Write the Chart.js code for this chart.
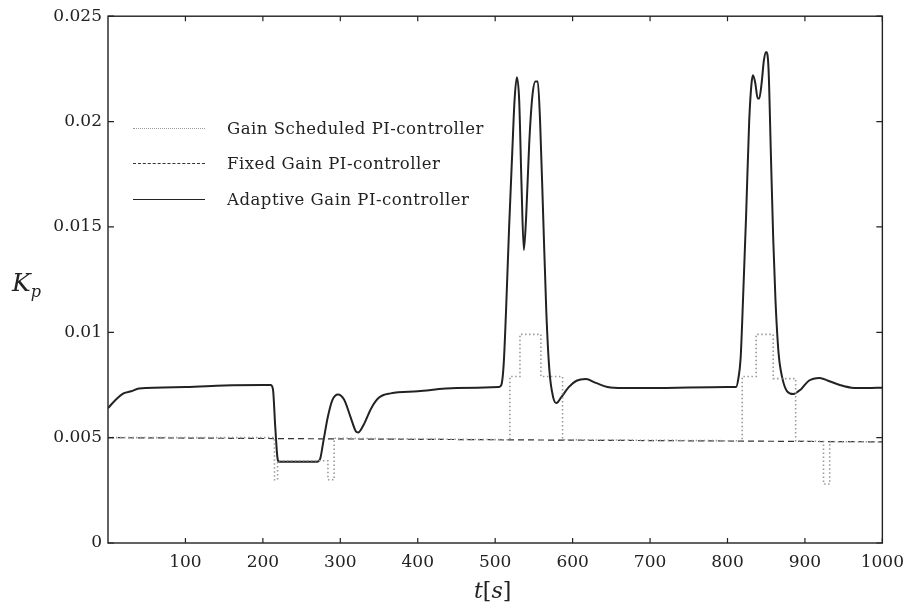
<!DOCTYPE html>
<html>
<head>
<meta charset="utf-8">
<script src="https://cdn.jsdelivr.net/npm/chart.js@4"></script>
<style>
  html, body { margin: 0; padding: 0; background: #fff; }
  #wrap { position: relative; width: 913px; height: 612px; }
  .lab { position: absolute; font-family: 'DejaVu Serif', serif; color: #222; white-space: nowrap; }
  .leg { position: absolute; left: 133px; width: 72px; height: 0; }
  .legtxt { position: absolute; left: 227px; font-family: 'DejaVu Serif', serif; font-size: 16.5px; letter-spacing: 0.5px; color: #222; transform: translateY(-50%); white-space: nowrap; }
</style>
</head>
<body>
<div id="wrap">
  <canvas id="kpChart" width="913" height="612"></canvas>

  <div class="leg" style="top:128px;border-top:1.5px dotted #9a9a9a;"></div>
  <div class="legtxt" style="top:128px;">Gain Scheduled PI-controller</div>
  <div class="leg" style="top:163px;border-top:1px dashed #333;"></div>
  <div class="legtxt" style="top:163px;">Fixed Gain PI-controller</div>
  <div class="leg" style="top:199px;border-top:1.5px solid #222;"></div>
  <div class="legtxt" style="top:199px;">Adaptive Gain PI-controller</div>

  <div class="lab" style="left:12px;top:268px;font-size:25px;font-style:italic;">K<span style="font-size:16px;position:relative;top:6px;">p</span></div>
  <div class="lab" style="left:474px;top:578px;font-size:22px;"><i>t</i>[<i>s</i>]</div>
</div>

<script>
// time stamps (s) and gains
const adaptiveT = [0, 10, 20, 30, 40, 100, 150, 200, 210, 213, 216, 219, 221, 270, 274, 278, 284, 290, 297, 305, 313, 320, 323, 330, 340, 350, 365, 400, 450, 505,
  508, 511, 514, 518, 522, 525, 528, 531, 534, 537, 540, 544, 548, 552, 555, 558, 562, 566, 570, 575, 579, 585, 595, 605, 617, 630, 645, 665, 700, 800,
  811, 814, 817, 820, 824, 828, 831, 833, 836, 839, 841, 844, 847, 850, 853, 856, 859, 862, 866, 871, 877, 885, 895, 905, 919, 930, 945, 960, 980, 1000];
const adaptiveKp = [0.0064, 0.0068, 0.0071, 0.0072, 0.00733, 0.0074, 0.00748, 0.0075, 0.0075, 0.0073, 0.0055, 0.0040, 0.00386, 0.00386, 0.0040, 0.0048, 0.0060, 0.0068, 0.00705, 0.0068, 0.0060, 0.0053, 0.00524, 0.0056, 0.0064, 0.0069, 0.0071, 0.0072, 0.00735, 0.0074,
  0.0075, 0.0085, 0.011, 0.015, 0.0185, 0.021, 0.0221, 0.021, 0.017, 0.0139, 0.0155, 0.019, 0.0212, 0.0219, 0.0219, 0.020, 0.0155, 0.011, 0.0082, 0.0069, 0.00664, 0.0069, 0.0074, 0.0077, 0.00778, 0.0076, 0.0074, 0.00735, 0.00735, 0.0074,
  0.0074, 0.0078, 0.0088, 0.0115, 0.0155, 0.0200, 0.0218, 0.0222, 0.0218, 0.0211, 0.0211, 0.0218, 0.0229, 0.0233, 0.0225, 0.0185, 0.0145, 0.0115, 0.009, 0.0078, 0.0072, 0.00707, 0.0073, 0.0077, 0.00783, 0.0077, 0.0075, 0.00737, 0.00735, 0.00737];

const scheduledT = [0, 215, 215, 219, 219, 284, 284, 292, 292, 519, 519, 532, 532, 559, 559, 587, 587, 819, 819, 837, 837, 859, 859, 888, 888, 924, 924, 932, 932, 1000];
const scheduledKp = [0.005, 0.005, 0.003, 0.003, 0.0039, 0.0039, 0.003, 0.003, 0.00497, 0.0049, 0.0079, 0.0079, 0.0099, 0.0099, 0.0079, 0.0079, 0.0049, 0.00485, 0.0079, 0.0079, 0.0099, 0.0099, 0.0078, 0.0078, 0.00484, 0.00482, 0.0028, 0.0028, 0.00481, 0.0048];

const fixedT = [0, 1000];
const fixedKp = [0.005, 0.0048];

const xTicks = [100, 200, 300, 400, 500, 600, 700, 800, 900, 1000];
const yTicks = [0, 0.005, 0.01, 0.015, 0.02, 0.025];

const pts = (ts, vs) => ts.map((t, i) => ({ x: t, y: vs[i] }));

// ticks pointing into the plot on all four sides, plus the frame
const frameTicks = {
  id: 'frameTicks',
  afterDraw(chart) {
    const { ctx, chartArea: a, scales } = chart;
    ctx.save();
    ctx.strokeStyle = '#222';
    ctx.lineWidth = 1.4;
    ctx.strokeRect(a.left, a.top, a.right - a.left, a.bottom - a.top);
    ctx.lineWidth = 1.2;
    ctx.beginPath();
    xTicks.forEach(v => {
      const px = scales.x.getPixelForValue(v);
      ctx.moveTo(px, a.bottom); ctx.lineTo(px, a.bottom - 5);
      ctx.moveTo(px, a.top); ctx.lineTo(px, a.top + 5);
    });
    yTicks.forEach(v => {
      const py = scales.y.getPixelForValue(v);
      ctx.moveTo(a.left, py); ctx.lineTo(a.left + 6, py);
      ctx.moveTo(a.right, py); ctx.lineTo(a.right - 6, py);
    });
    ctx.stroke();
    ctx.restore();
  }
};

const tickFont = { family: "'DejaVu Serif', serif", size: 17 };

new Chart(document.getElementById('kpChart'), {
  type: 'line',
  data: {
    datasets: [
      {
        label: 'Gain Scheduled PI-controller',
        data: pts(scheduledT, scheduledKp),
        borderColor: '#9a9a9a',
        borderWidth: 1.6,
        borderDash: [1.5, 2.5],
        pointRadius: 0,
        tension: 0
      },
      {
        label: 'Fixed Gain PI-controller',
        data: pts(fixedT, fixedKp),
        borderColor: '#333',
        borderWidth: 1.2,
        borderDash: [6, 4],
        pointRadius: 0,
        tension: 0
      },
      {
        label: 'Adaptive Gain PI-controller',
        data: pts(adaptiveT, adaptiveKp),
        borderColor: '#222',
        borderWidth: 2,
        pointRadius: 0,
        cubicInterpolationMode: 'monotone'
      }
    ]
  },
  options: {
    responsive: false,
    animation: false,
    layout: { padding: { top: 16, right: 22, left: 0, bottom: 0 } },
    plugins: { legend: { display: false }, tooltip: { enabled: false } },
    scales: {
      x: {
        type: 'linear',
        min: 0,
        max: 1000,
        grid: { display: false, drawTicks: false },
        border: { display: false },
        afterBuildTicks: s => { s.ticks = xTicks.map(v => ({ value: v })); },
        afterFit: s => { s.height = 69; },
        ticks: { color: '#222', font: tickFont, padding: 9, maxRotation: 0, callback: v => String(v) }
      },
      y: {
        min: 0,
        max: 0.025,
        grid: { display: false, drawTicks: false },
        border: { display: false },
        afterBuildTicks: s => { s.ticks = yTicks.map(v => ({ value: v })); },
        afterFit: s => { s.width = 108; },
        ticks: {
          color: '#222', font: tickFont, padding: 6,
          callback: v => String(parseFloat(v.toFixed(3)))
        }
      }
    }
  },
  plugins: [frameTicks]
});
</script>
</body>
</html>
